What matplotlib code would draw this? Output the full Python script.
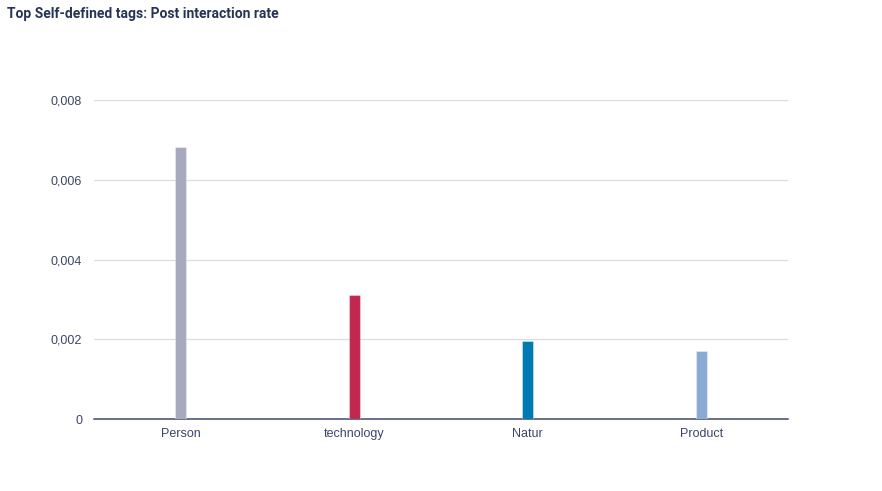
import matplotlib
matplotlib.use("Agg")
from matplotlib import pyplot as plt
from matplotlib.ticker import FuncFormatter

# data
tags = ['Person', 'technology', 'Natur', 'Product']
rates = [0.00682, 0.00311, 0.00196, 0.00171]
colors = ['#a7a9bf', '#c0284f', '#0078b2', '#8aaad6']

plt.rcParams['font.family'] = ['Liberation Sans', 'DejaVu Sans']

fig = plt.figure(figsize=(8.82, 4.91), dpi=100)
ax = fig.add_axes([94 / 882, 72 / 491, 694 / 882, 319 / 491])

xs = list(range(len(tags)))
ax.bar(xs, rates, width=0.065, color=colors, edgecolor=(1, 1, 1, 0.35),
       linewidth=0.8, zorder=3)

ax.set_xlim(-0.5, len(tags) - 0.5)
ax.set_ylim(0, 0.008)
ax.set_yticks([0, 0.002, 0.004, 0.006, 0.008])
ax.yaxis.set_major_formatter(FuncFormatter(
    lambda v, _: '0' if v == 0 else ('%.3f' % v).replace('.', ',')))
ax.set_xticks(xs)
ax.set_xticklabels(tags)

ax.grid(axis='y', color='#dcdde3', linewidth=0.9, zorder=0)
for side in ['top', 'right', 'left']:
    ax.spines[side].set_visible(False)
ax.spines['bottom'].set_color('#3e4a6b')
ax.spines['bottom'].set_linewidth(1.1)
ax.tick_params(axis='both', length=0, labelsize=9, labelcolor='#3a4668')
ax.tick_params(axis='y', pad=8.5)
ax.tick_params(axis='x', pad=6.5)

fig.text(7 / 882, 1 - 14 / 491, 'Top Self-defined tags: Post interaction rate',
         fontsize=10, fontweight='bold', color='#253456', va='center',
         family=['Roboto', 'DejaVu Sans'])

fig.savefig('out.png', dpi=100)
